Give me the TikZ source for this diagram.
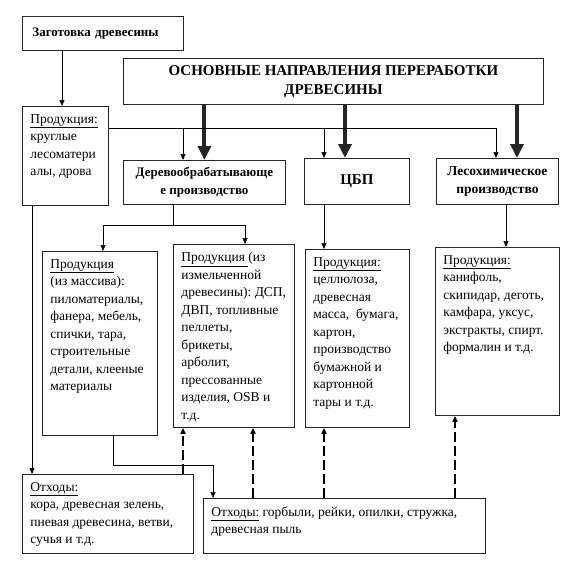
\documentclass[tikz,border=0pt]{standalone}
\usepackage{fontspec}
\setmainfont{Liberation Serif}
\usetikzlibrary{arrows.meta}
\newcommand{\boxtext}[3]{\parbox[t][#2][t]{#1}{\raggedright #3}}

\begin{document}
\begin{tikzpicture}[x=1pt, y=-1pt,
    headbox/.style={draw=black!85, line width=0.8pt, anchor=north west, align=center,
                inner sep=0pt, font=\bfseries\fontsize{13}{17.5}\selectfont},
    textbox/.style={draw=black!85, line width=0.8pt, anchor=north west,
                inner xsep=8pt, inner ysep=8pt, font=\fontsize{13.5}{17.5}\selectfont},
    thinarrow/.style={line width=0.7pt, -{Triangle[length=6pt,width=5pt]}},
    thickarrow/.style={line width=4pt, black!85, -{Triangle[length=14pt,width=13pt]}},
    dasharrow/.style={line width=1.6pt, dash pattern=on 10pt off 4pt, -{Triangle[length=6pt,width=5pt]}}
]
    \useasboundingbox (0,0) rectangle (567,581);

    % top row
    \node[headbox, minimum width=161pt, minimum height=34pt, text width=141pt,
          align=left, inner xsep=10pt] (zag) at (22,16) {Заготовка древесины};
    \node[headbox, minimum width=420pt, minimum height=46pt,
          font=\bfseries\fontsize{15}{19}\selectfont] (title) at (123,58)
        {ОСНОВНЫЕ НАПРАВЛЕНИЯ ПЕРЕРАБОТКИ\\ДРЕВЕСИНЫ};
    \node[textbox] (prod0) at (22,106)
        {\boxtext{70pt}{83pt}{\underline{Продукция:}\\круглые\\лесоматери\\алы, дрова}};

    % branches
    \node[headbox, minimum width=162pt, minimum height=44pt] (dwood) at (123,160)
        {Деревообрабатывающе\\е производство};
    \node[headbox, minimum width=105pt, minimum height=46pt,
          font=\bfseries\fontsize{15}{19}\selectfont] (cbp) at (304,158) {ЦБП};
    \node[headbox, minimum width=122pt, minimum height=46pt,
          font=\bfseries\fontsize{13.5}{18}\selectfont] (chem) at (436,158)
        {Лесохимическое\\производство};

    % products
    \node[textbox] (mass) at (42,251)
        {\boxtext{99pt}{168pt}{\underline{Продукция}\\(из массива):\\пиломатериалы,\\фанера, мебель,\\спички, тара,\\строительные\\детали, клееные\\материалы}};
    \node[textbox] (chip) at (173,244)
        {\boxtext{105pt}{167pt}{\underline{Продукция }(из\\измельченной\\древесины):~ДСП,\\ДВП, топливные\\пеллеты,\\брикеты,\\арболит,\\прессованные\\изделия, OSB и\\т.д.}};
    \node[textbox] (cbpp) at (305,249)
        {\boxtext{88pt}{162pt}{\underline{Продукция:}\\целлюлоза,\\древесная\\масса, \ бумага,\\картон,\\производство\\бумажной и\\картонной\\тары и т.д.}};
    \node[textbox] (chemp) at (435,247)
        {\boxtext{108pt}{152pt}{\underline{Продукция:}\\канифоль,\\скипидар, деготь,\\камфара, уксус,\\экстракты, спирт.\\формалин и т.д.}};

    % wastes
    \node[textbox] (wasteA) at (22,474)
        {\boxtext{155pt}{63pt}{\underline{Отходы:}\\кора, древесная зелень,\\пневая древесина, ветви,\\сучья и т.д.}};
    \node[textbox] (wasteB) at (203,498)
        {\boxtext{266pt}{39pt}{\underline{Отходы:} горбыли, рейки, опилки, стружка,\\древесная пыль}};

    % connectors
    \draw[thinarrow] ([xshift=40pt]zag.south west) -- ([xshift=40pt]prod0.north west);

    \draw[thickarrow] (dwood.north |- title.south) -- (dwood.north);
    \draw[thickarrow] ([xshift=41pt]cbp.north west |- title.south) -- ([xshift=41pt]cbp.north west);
    \draw[thickarrow] ([xshift=81pt]chem.north west |- title.south) -- ([xshift=81pt]chem.north west);

    \coordinate (bus) at ([yshift=-22pt]prod0.north east);
    \draw[thinarrow] (bus) -| ([xshift=60pt]chem.north west);
    \draw[thinarrow] (bus) -| ([xshift=60pt]dwood.north west);
    \draw[thinarrow] (bus) -| ([xshift=20pt]cbp.north west);

    \coordinate (dwout) at ([xshift=50pt]dwood.south west);
    \draw[thinarrow] (dwout) -- ++(0,21) -| ([xshift=61pt]mass.north west);
    \draw[thinarrow] (dwout) -- ++(0,21) -| ([xshift=72pt]chip.north west);
    \draw[thinarrow] ([xshift=20pt]cbp.south west) -- ([xshift=19pt]cbpp.north west);
    \draw[thinarrow] ([xshift=70pt]chem.south west) -- ([xshift=71pt]chemp.north west);

    \draw[thinarrow] ([xshift=10pt]prod0.south west) -- ([xshift=10pt]wasteA.north west);
    \draw[thinarrow] ([xshift=71pt]mass.south west) -- ++(0,30) -| ([xshift=10pt]wasteB.north west);

    \draw[dasharrow] ([xshift=161pt]wasteA.north west) -- ([xshift=10pt]chip.south west);
    \draw[dasharrow] ([xshift=50pt]wasteB.north west) -- ([xshift=80pt]chip.south west);
    \draw[dasharrow] ([xshift=121pt]wasteB.north west) -- ([xshift=19pt]cbpp.south west);
    \draw[dasharrow] ([xshift=252pt]wasteB.north west) -- ([xshift=20pt]chemp.south west);
\end{tikzpicture}
\end{document}
